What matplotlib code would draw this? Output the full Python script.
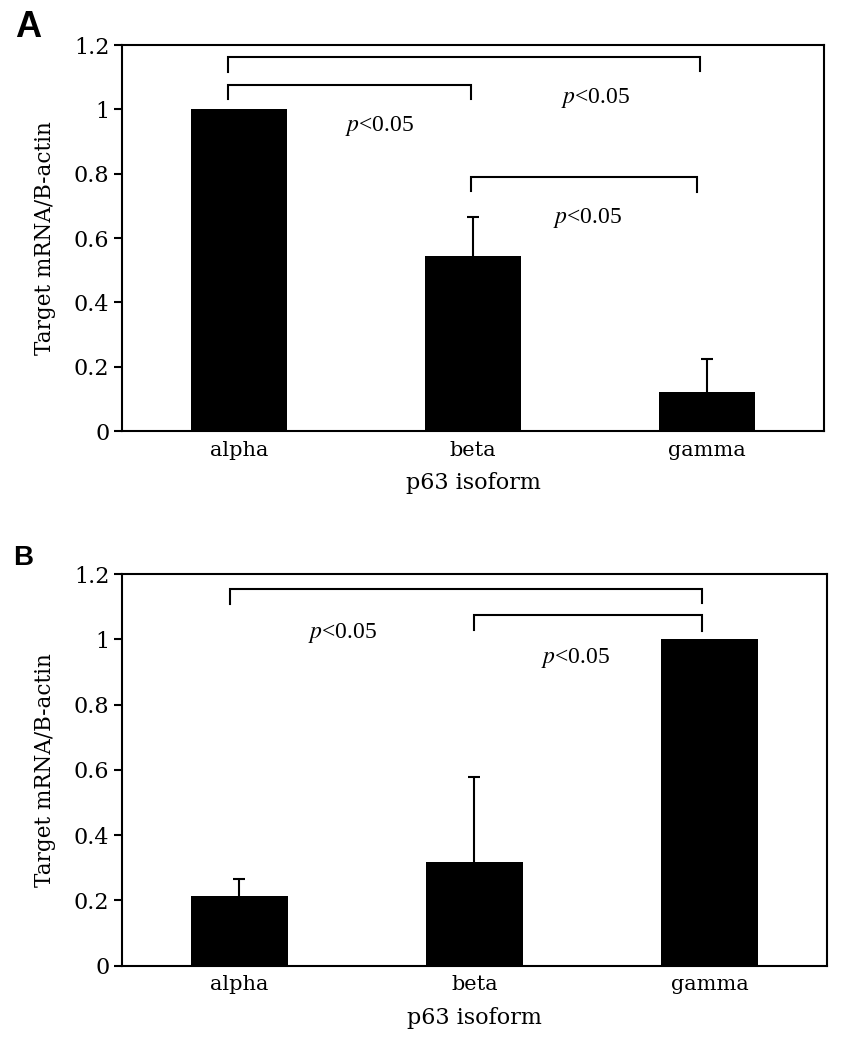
import matplotlib
matplotlib.use("Agg")
import matplotlib.pyplot as plt

plt.rcParams["mathtext.fontset"] = "stix"

# data
isoforms = ["alpha", "beta", "gamma"]
yticks = [0, 0.2, 0.4, 0.6, 0.8, 1, 1.2]
ytick_labels = ["0", "0.2", "0.4", "0.6", "0.8", "1", "1.2"]

a_means = [1.0, 0.545, 0.12]
a_err = [0.0, 0.12, 0.105]
b_means = [0.214, 0.317, 1.0]
b_err = [0.051, 0.261, 0.0]

# brackets: (x left, x right, y, left leg bottom, right leg bottom)
a_brackets = [(-0.047, 1.97, 1.163, 1.115, 1.12),
              (-0.047, 0.99, 1.077, 1.032, 1.032),
              (0.99, 1.956, 0.79, 0.745, 0.742)]
b_brackets = [(-0.04, 1.97, 1.154, 1.107, 1.11),
              (0.998, 1.97, 1.074, 1.03, 1.026)]
# p-value labels: (x, y)
a_pvals = [(0.60, 0.948), (1.526, 1.035), (1.49, 0.662)]
b_pvals = [(0.44, 1.019), (1.43, 0.943)]

serif = "DejaVu Serif"
times = "Liberation Serif"

fig = plt.figure(figsize=(8.46, 10.5), dpi=100)
ax_a = fig.add_axes([0.1442, 0.5895, 0.974 - 0.1442, 0.9571 - 0.5895])
ax_b = fig.add_axes([0.1442, 0.0803, 0.9775 - 0.1442, 0.4533 - 0.0803])


def draw_panel(ax, means, errs, brackets, pvals):
    x = list(range(len(isoforms)))
    ax.bar(x, means, width=0.41, color="black", zorder=2)
    # upper error bars only
    for xi, m, e in zip(x, means, errs):
        if e > 0:
            eb = ax.errorbar(xi, m, yerr=[[0], [e]], fmt="none", ecolor="black",
                             elinewidth=1.5, capsize=4.3, capthick=1.5, zorder=1)
            eb.lines[1][0].set_visible(False)  # drop the lower cap
    for x0, x1, y, l0, l1 in brackets:
        ax.plot([x0, x0, x1, x1], [l0, y, y, l1], color="black", lw=1.5,
                solid_joinstyle="miter")
    for px, py in pvals:
        ax.text(px, py, r"$\it{p}$<0.05", ha="center", va="center",
                fontsize=17, family=times)
    ax.set_xlim(-0.5, 2.5)
    ax.set_ylim(0, 1.2)
    ax.set_yticks(yticks)
    ax.set_yticklabels(ytick_labels, family=serif, fontsize=16)
    ax.set_xticks(x)
    ax.set_xticklabels(isoforms, family=serif, fontsize=15)
    ax.tick_params(axis="x", length=0, pad=7)
    ax.tick_params(axis="y", length=6, width=1.5, direction="out", pad=3)
    for s in ax.spines.values():
        s.set_linewidth(1.5)
    ax.set_xlabel("p63 isoform", family=serif, fontsize=16, labelpad=9)
    ax.set_ylabel("Target mRNA/B-actin", family=serif, fontsize=15.5, labelpad=13)


draw_panel(ax_a, a_means, a_err, a_brackets, a_pvals)
draw_panel(ax_b, b_means, b_err, b_brackets, b_pvals)

fig.text(15 / 846, 1 - 37 / 1050, "A", family="Liberation Sans", weight="bold",
         fontsize=26, va="baseline")
fig.text(13 / 846, 1 - 565 / 1050, "B", family="Liberation Sans", weight="bold",
         fontsize=20, va="baseline")

fig.savefig("out.png", dpi=100)
